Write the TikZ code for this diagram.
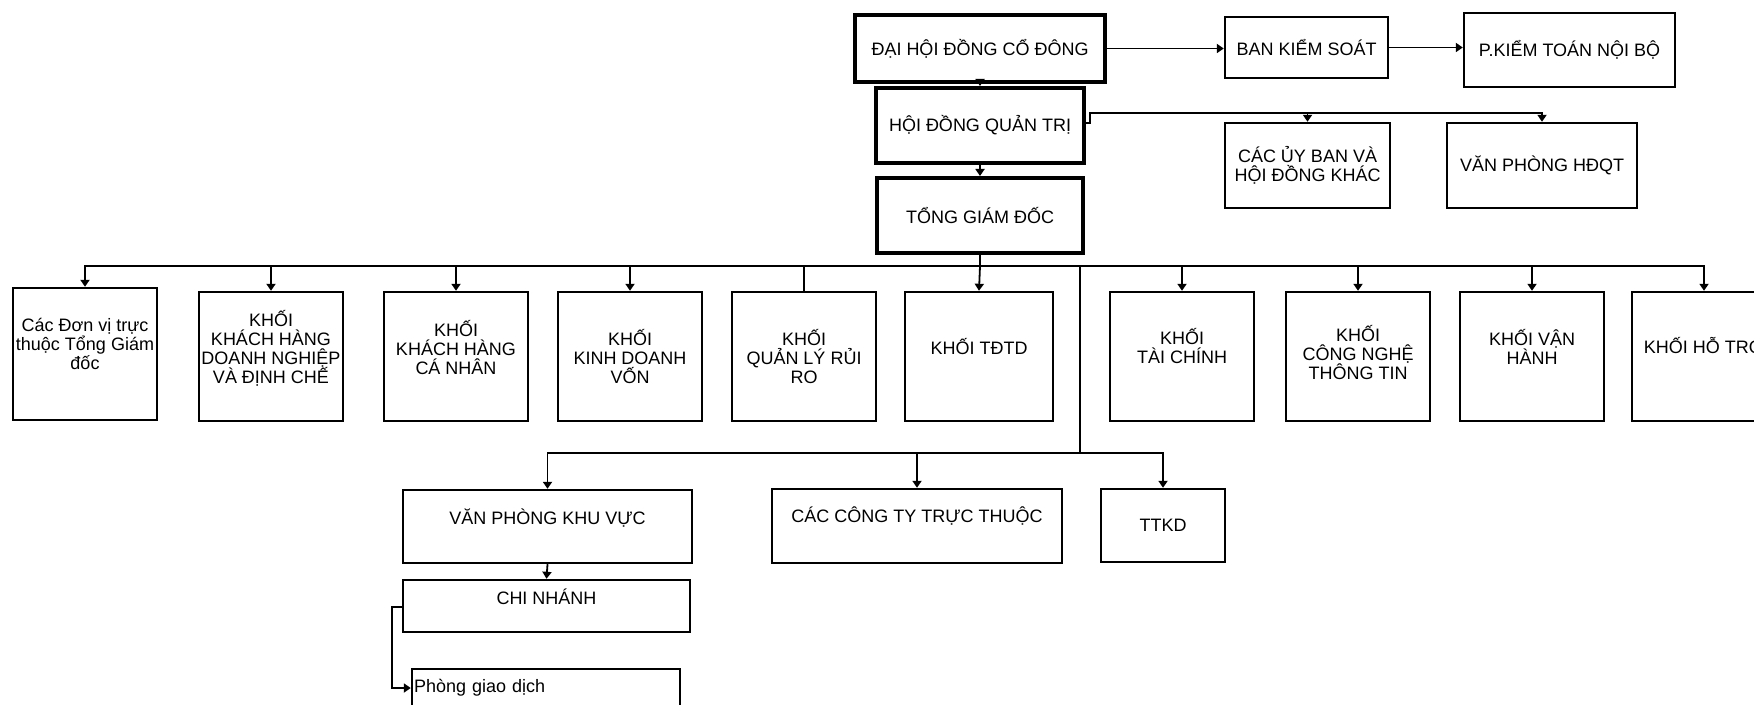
\documentclass[tikz,border=0pt]{standalone}
\usepackage{fontspec}
\setmainfont{Liberation Sans}
\usetikzlibrary{arrows.meta}
\tikzset{
  org box/.style={draw, line width=1.2pt, inner sep=0pt, align=center},
  org head/.style={org box, line width=2pt},
  khoi/.style={org box, minimum width=72pt, minimum height=64.5pt},
  org text/.style={align=center, inner sep=0pt},
  org edge/.style={line width=0.9pt},
  org arrow/.style={org edge, -{Triangle[length=3.5pt, width=4.5pt]}}
}

\begin{document}
\begin{tikzpicture}[x=0.5pt, y=-0.5pt, font=\fontsize{9}{9.5}\selectfont]
  \useasboundingbox (0,0) rectangle (1754,705);
  \clip (0,0) rectangle (1754,705);
  % top levels
  \node[org head, minimum width=125pt, minimum height=33.5pt] (dhcd) at (980,48.5) {ĐẠI HỘI ĐỒNG CỔ ĐÔNG};
  \node[org box, minimum width=81.5pt, minimum height=30.5pt] (bks) at (1306.5,47.5) {BAN KIỂM SOÁT};
  \node[org box, minimum width=105.5pt, minimum height=37pt] (pktnb) at (1569.5,50) {P.KIỂM TOÁN NỘI BỘ};
  \node[org head, minimum width=104pt, minimum height=37.5pt] (hdqt) at (980,125.5) {HỘI ĐỒNG QUẢN TRỊ};
  \node[org head, minimum width=103pt, minimum height=37.5pt] (tgd) at (980,215.5) {TỔNG GIÁM ĐỐC};
  \node[org box, minimum width=82.5pt, minimum height=42.5pt] (ubhd) at (1307.5,165.5) {CÁC ỦY BAN VÀ\\HỘI ĐỒNG KHÁC};
  \node[org box, minimum width=95pt, minimum height=42.5pt] (vphdqt) at (1542,165.5) {VĂN PHÒNG HĐQT};
  \coordinate (hdqtbus) at (1090,113);
  \coordinate (bus) at (980,266);
  \coordinate (bus2) at (1080,453);

  % khoi row
  \node[khoi, minimum height=66pt, label={[org text, yshift=5pt]center:Các Đơn vị trực\\thuộc Tổng Giám\\đốc}] (dvtt) at (85,354) {};
  \node[khoi, label={[org text, yshift=4.25pt]center:KHỐI\\KHÁCH HÀNG\\DOANH NGHIỆP\\VÀ ĐỊNH CHẾ}] (kkhdn) at (271,356.5) {};
  \node[khoi, label={[org text, yshift=4.25pt]center:KHỐI\\KHÁCH HÀNG\\CÁ NHÂN}] (kkhcn) at (456,356.5) {};
  \node[khoi, label={[org text]center:KHỐI\\KINH DOANH\\VỐN}] (kkdv) at (630,356.5) {};
  \node[khoi, label={[org text]center:KHỐI\\QUẢN LÝ RỦI\\RO}] (kqlrr) at (804,356.5) {};
  \node[khoi, minimum width=74pt, label={[org text, yshift=4.75pt]center:KHỐI TĐTD}] (ktdtd) at (979,356.5) {};
  \node[khoi, label={[org text, yshift=5pt]center:KHỐI\\TÀI CHÍNH}] (ktc) at (1182,356.5) {};
  \node[khoi, label={[org text, yshift=2pt]center:KHỐI\\CÔNG NGHỆ\\THÔNG TIN}] (kcntt) at (1358,356.5) {};
  \node[khoi, label={[org text, yshift=5pt]center:KHỐI VẬN\\HÀNH}] (kvh) at (1532,356.5) {};
  \node[khoi, label={[org text, yshift=4.75pt]center:KHỐI HỖ TRỢ}] (kht) at (1704,356.5) {};

  % lower units
  \node[org box, minimum width=144.5pt, minimum height=36.5pt, label={[org text, yshift=4.25pt]center:VĂN PHÒNG KHU VỰC}] (vpkv) at (547.5,526.5) {};
  \node[org box, minimum width=145pt, minimum height=37pt, label={[org text, yshift=5pt]center:CÁC CÔNG TY TRỰC THUỘC}] (cty) at (917,526) {};
  \node[org box, minimum width=62pt, minimum height=36.5pt] (ttkd) at (1163,525.5) {TTKD};
  \node[org box, minimum width=143.5pt, minimum height=26pt, label={[org text, yshift=4.5pt]center:CHI NHÁNH}] (chinhanh) at (546.5,606) {};
  \node[org box, minimum width=134pt, minimum height=19pt, text width=132pt, align=left] (pgd) at (546,688) {Phòng giao dịch};

  % connectors
  \draw[org arrow] (dhcd.east) -- (dhcd.east -| bks.west);
  \draw[org arrow] (bks.east) -- (bks.east -| pktnb.west);
  \draw[org arrow] (dhcd.south) -- (hdqt.north);
  \draw[org arrow] (hdqt.south) -- (tgd.north);
  \draw[org arrow] ([yshift=1.25pt]hdqt.east) -| (hdqtbus) -| (vphdqt.north);
  \draw[org arrow] (hdqtbus -| ubhd.north) -- (ubhd.north);
  \draw[org edge] (tgd.south) -- (bus);
  \draw[org arrow] (bus) -| (dvtt.north);
  \draw[org arrow] (bus) -| (kkhdn.north);
  \draw[org arrow] (bus) -| (kkhcn.north);
  \draw[org arrow] (bus) -| (kkdv.north);
  \draw[org edge] (bus) -| (kqlrr.north);
  \draw[org arrow] (bus) -- (ktdtd.north);
  \draw[org arrow] (bus) -| (ktc.north);
  \draw[org arrow] (bus) -| (kcntt.north);
  \draw[org arrow] (bus) -| (kvh.north);
  \draw[org arrow] (bus) -| (kht.north);
  \draw[org edge] (bus2 |- bus) -- (bus2);
  \draw[org arrow] (bus2) -| (vpkv.north);
  \draw[org arrow] (bus2) -| (cty.north);
  \draw[org arrow] (bus2) -| (ttkd.north);
  \draw[org arrow] (vpkv.south) -- (chinhanh.north);
  \draw[org arrow] ([yshift=-0.5pt]chinhanh.west) -- ++(-5pt,0) |- (pgd.west);
\end{tikzpicture}
\end{document}
